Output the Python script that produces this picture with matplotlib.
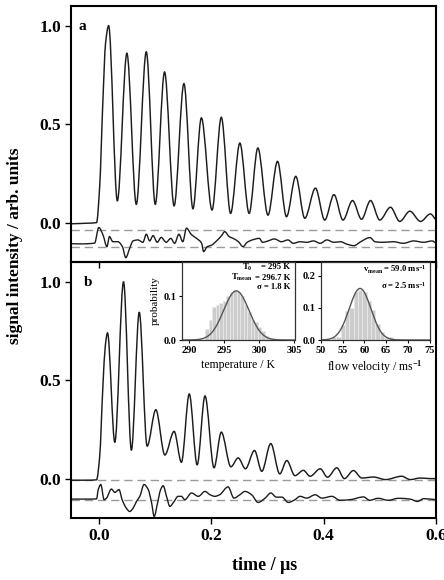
import numpy as np
import matplotlib
matplotlib.use("Agg")
import matplotlib.pyplot as plt
from matplotlib.path import Path
from matplotlib.patches import PathPatch

plt.rcParams["font.family"] = ["Liberation Serif", "DejaVu Serif"]
plt.rcParams["font.weight"] = "bold"
plt.rcParams["mathtext.fontset"] = "custom"
plt.rcParams["mathtext.rm"] = "Liberation Serif:bold"
plt.rcParams["mathtext.it"] = "Liberation Serif:bold"
plt.rcParams["mathtext.bf"] = "Liberation Serif:bold"

# ── Data ─────────────────────────────────────────────────────────────
# panel a: signal trace (time in µs, intensity)
ta = [-0.05, -0.02, -0.004, 0.0015, 0.0073, 0.012, 0.0175, 0.033, 0.050, 0.0667,
      0.0845, 0.1005, 0.117, 0.134, 0.1515, 0.1675, 0.1825, 0.2015, 0.218, 0.2345,
      0.251, 0.2675, 0.283, 0.301, 0.318, 0.334, 0.3505, 0.3665, 0.3855, 0.402,
      0.4185, 0.4345, 0.4515, 0.4675, 0.4835, 0.500, 0.519, 0.5355, 0.5535, 0.5725,
      0.590, 0.600]
va = [-0.006, -0.003, 0.0, 0.18, 0.62, 0.91, 1.0, 0.11, 0.86, 0.093,
      0.867, 0.093, 0.765, 0.085, 0.706, 0.07, 0.532, 0.064, 0.535, 0.047,
      0.404, 0.047, 0.379, 0.038, 0.311, 0.03, 0.235, 0.022, 0.175, 0.013,
      0.142, 0.013, 0.112, 0.017, 0.112, 0.013, 0.078, 0.006, 0.058, 0.006,
      0.044, 0.013]

# panel a: residual
ra_t = [-0.05, -0.03, -0.0075, 0.0, 0.0075, 0.0145, 0.019, 0.025, 0.034, 0.042,
        0.048, 0.055, 0.061, 0.0695, 0.0785, 0.0845, 0.0905, 0.0965, 0.104, 0.111,
        0.12, 0.128, 0.135, 0.1425, 0.1495, 0.156, 0.1645, 0.174, 0.183, 0.1865,
        0.193, 0.2005, 0.2095, 0.2185, 0.224, 0.232, 0.239, 0.2485, 0.2565, 0.264,
        0.273, 0.2855, 0.2915, 0.301, 0.3125, 0.325, 0.3365, 0.346, 0.358, 0.37,
        0.382, 0.394, 0.406, 0.418, 0.43, 0.442, 0.454, 0.466, 0.4825, 0.4915,
        0.506, 0.524, 0.542, 0.56, 0.578, 0.593, 0.6]
ra_v = [-0.107, -0.108, -0.104, -0.025, -0.063, -0.122, -0.071, -0.097, -0.097, -0.122,
        -0.178, -0.13, -0.093, -0.088, -0.1, -0.059, -0.093, -0.066, -0.1, -0.075,
        -0.1, -0.08, -0.105, -0.059, -0.097, -0.028, -0.06, -0.08, -0.105, -0.147,
        -0.122, -0.115, -0.093, -0.066, -0.046, -0.071, -0.08, -0.097, -0.122, -0.1,
        -0.088, -0.08, -0.1, -0.093, -0.083, -0.097, -0.088, -0.105, -0.097, -0.1,
        -0.093, -0.105, -0.088, -0.1, -0.097, -0.11, -0.117, -0.097, -0.076, -0.097,
        -0.1, -0.097, -0.105, -0.093, -0.1, -0.093, -0.105]

# panel b: signal trace
tb = [-0.05, -0.02, -0.004, 0.0015, 0.0073, 0.0116, 0.0155, 0.0285, 0.044, 0.058,
      0.072, 0.086, 0.1015, 0.1175, 0.134, 0.147, 0.161, 0.175, 0.189, 0.205,
      0.218, 0.235, 0.248, 0.261, 0.277, 0.29, 0.306, 0.322, 0.3345, 0.349,
      0.364, 0.376, 0.394, 0.407, 0.4235, 0.437, 0.453, 0.468, 0.489, 0.51,
      0.539, 0.554, 0.572, 0.59, 0.6]
vb = [-0.008, -0.008, -0.006, 0.11, 0.47, 0.675, 0.74, 0.185, 1.0, 0.144,
      0.845, 0.165, 0.35, 0.12, 0.24, 0.083, 0.43, 0.07, 0.42, 0.055,
      0.236, 0.06, 0.105, 0.05, 0.143, 0.037, 0.178, 0.024, 0.092, 0.015,
      0.042, 0.012, 0.05, 0.007, 0.055, 0.0, 0.041, 0.003, 0.008, -0.005,
      0.012, -0.005, 0.003, 0.0, 0.0]

# panel b: residual
rb_t = [-0.05, -0.02, -0.004, -0.001, 0.0035, 0.0095, 0.0135, 0.0225, 0.0285, 0.036,
        0.0415, 0.049, 0.055, 0.061, 0.067, 0.073, 0.0805, 0.088, 0.094, 0.0985,
        0.1045, 0.11, 0.1145, 0.1205, 0.1265, 0.134, 0.141, 0.147, 0.153, 0.165,
        0.177, 0.189, 0.198, 0.2065, 0.215, 0.23, 0.2405, 0.251, 0.26, 0.272,
        0.2835, 0.2955, 0.306, 0.316, 0.326, 0.337, 0.349, 0.358, 0.37, 0.385,
        0.397, 0.415, 0.429, 0.447, 0.471, 0.482, 0.497, 0.515, 0.533, 0.554,
        0.567, 0.578, 0.6]
rb_v = [-0.104, -0.104, -0.103, -0.056, -0.03, -0.107, -0.1, -0.053, -0.07, -0.056,
        -0.107, -0.15, -0.167, -0.15, -0.116, -0.09, -0.03, -0.056, -0.124, -0.192,
        -0.124, -0.056, -0.036, -0.09, -0.141, -0.116, -0.09, -0.09, -0.107, -0.073,
        -0.09, -0.065, -0.082, -0.09, -0.082, -0.042, -0.099, -0.082, -0.065, -0.082,
        -0.121, -0.1, -0.073, -0.094, -0.094, -0.121, -0.107, -0.09, -0.099, -0.082,
        -0.099, -0.09, -0.11, -0.107, -0.093, -0.11, -0.1, -0.11, -0.1, -0.104,
        -0.116, -0.102, -0.107]

# dashed reference levels
dash_a = [-0.04, -0.122]
dash_b = [-0.008, -0.107]

# inset: temperature histogram (K, probability) + gaussian fit
temp_bins = [290.5, 292.5, 293.0, 293.5, 294.0, 294.5, 295.0, 295.5, 296.0, 296.5,
             297.0, 297.5, 298.0, 298.5, 299.0, 299.5, 300.0, 300.5, 301.0, 301.5]
temp_prob = [0.003, 0.025, 0.045, 0.075, 0.08, 0.085, 0.09, 0.10, 0.11, 0.115,
             0.11, 0.10, 0.08, 0.065, 0.045, 0.04, 0.03, 0.02, 0.01, 0.005]
temp_fit = {"mean": 296.7, "sigma": 1.8, "peak": 0.112}

# inset: flow velocity histogram (m/s, probability) + gaussian fit
vel_bins = [53, 54, 55, 56, 57, 58, 59, 60, 61, 62, 63, 64, 65, 66, 68]
vel_prob = [0.008, 0.01, 0.045, 0.09, 0.1, 0.15, 0.155, 0.148, 0.12, 0.093,
            0.05, 0.025, 0.005, 0.009, 0.003]
vel_fit = {"mean": 59.0, "sigma": 2.5, "peak": 0.16}

TRACE = "#1c1c1c"
DASH = "#9a9a9a"


def trace_path(t, v):
    """Smooth bezier path through the read points (monotone tangents,
    flat at local extrema) so the curve is drawn by matplotlib itself."""
    t = np.asarray(t, float)
    v = np.asarray(v, float)
    h = np.diff(t)
    d = np.diff(v) / h
    m = np.zeros_like(v)
    m[0], m[-1] = d[0], d[-1]
    for i in range(1, len(v) - 1):
        if d[i - 1] * d[i] > 0:
            w1 = 2 * h[i] + h[i - 1]
            w2 = h[i] + 2 * h[i - 1]
            m[i] = (w1 + w2) / (w1 / d[i - 1] + w2 / d[i])
    verts = [(t[0], v[0])]
    codes = [Path.MOVETO]
    for i in range(len(t) - 1):
        verts += [(t[i] + h[i] / 3, v[i] + m[i] * h[i] / 3),
                  (t[i + 1] - h[i] / 3, v[i + 1] - m[i + 1] * h[i] / 3),
                  (t[i + 1], v[i + 1])]
        codes += [Path.CURVE4] * 3
    return Path(verts, codes)


fig = plt.figure(figsize=(4.44, 5.80), dpi=100)

W, H = 444.0, 580.0
def box(x0, y0, x1, y1):
    return [x0 / W, 1 - y1 / H, (x1 - x0) / W, (y1 - y0) / H]

ax_b = fig.add_axes(box(70.7, 262, 436, 518))
ax_a = fig.add_axes(box(70.7, 6, 436, 262))
ax_b.patch.set_visible(False)
ax_a.patch.set_visible(False)

for ax, t, v, rt, rv, dl in [(ax_a, ta, va, ra_t, ra_v, dash_a),
                             (ax_b, tb, vb, rb_t, rb_v, dash_b)]:
    for lvl in dl:
        ax.axhline(lvl, color=DASH, lw=1.0, dashes=(6, 3.5), zorder=1)
    ax.add_patch(PathPatch(trace_path(t, v), facecolor="none", edgecolor=TRACE,
                           lw=1.05, zorder=2))
    ax.add_patch(PathPatch(trace_path(rt, rv), facecolor="none", edgecolor=TRACE,
                           lw=1.0, zorder=2))
    ax.set_xlim(-0.05, 0.6)
    ax.set_ylim(-0.2, 1.1)
    ax.set_yticks([0.0, 0.5, 1.0])
    ax.set_yticklabels(["0.0", "0.5", "1.0"])
    ax.tick_params(axis="both", direction="out", length=4, width=1.0,
                   labelsize=12.5, pad=3)
    for s in ax.spines.values():
        s.set_linewidth(1.5)

ax_a.set_xticks([0.0, 0.2, 0.4, 0.6])
ax_a.tick_params(axis="x", labelbottom=False)
ax_b.set_xticks([0.0, 0.2, 0.4, 0.6])
ax_b.set_xticklabels(["0.0", "0.2", "0.4", "0.6"])

ax_a.text(0.033, 0.919, "a", transform=ax_a.transAxes, fontsize=11,
          ha="center", va="center")
ax_b.text(0.047, 0.918, "b", transform=ax_b.transAxes, fontsize=11,
          ha="center", va="center")

fig.text(15 / W, 1 - 246 / H, "signal intensity / arb. units", rotation=90,
         ha="center", va="center", fontsize=12.5)
fig.text(265 / W, 1 - 566 / H, "time / \u03bcs", ha="center", va="center",
         fontsize=13)

# ── Insets ───────────────────────────────────────────────────────────
def draw_inset(rect, bins, prob, width, fit, xlim, ylim, xticks, yticks, xlabel):
    ax = fig.add_axes(rect)
    ax.set_facecolor("white")
    ax.bar(bins, prob, width=width, color="#cdcdcd", edgecolor="#e8e8e8",
           linewidth=0.6, zorder=1)
    x = np.linspace(xlim[0], xlim[1], 300)
    ax.plot(x, fit["peak"] * np.exp(-0.5 * ((x - fit["mean"]) / fit["sigma"]) ** 2),
            color="#555555", lw=1.0, zorder=2)
    ax.set_xlim(*xlim)
    ax.set_ylim(*ylim)
    ax.set_xticks(xticks)
    ax.set_xticklabels([str(v) for v in xticks])
    ax.set_yticks(yticks)
    ax.set_yticklabels(["%.1f" % v for v in yticks])
    ax.tick_params(direction="out", length=2, width=0.8, labelsize=7.5, pad=2)
    ax.set_xlabel(xlabel, fontsize=8.5, labelpad=3)
    for s in ax.spines.values():
        s.set_linewidth(0.9)
        s.set_color("#333333")
    return ax

ax_t = draw_inset(box(182.3, 262, 294.5, 340), temp_bins, temp_prob, 0.5, temp_fit,
                  (289, 305), (0, 0.178), [290, 295, 300, 305], [0.0, 0.1],
                  "temperature / K")
ax_t.set_ylabel("probability", fontsize=8, labelpad=3)
ANN = 6.2
rows_y = [0.93, 0.80, 0.675]
ax_t.text(0.96, rows_y[0], "= 295 K", transform=ax_t.transAxes, fontsize=ANN,
          ha="right", va="center")
wide = ax_t.text(0.96, rows_y[1], "= 296.7 K", transform=ax_t.transAxes,
                 fontsize=ANN, ha="right", va="center")
ax_t.text(0.96, rows_y[2], "\u03c3 = 1.8 K", transform=ax_t.transAxes, fontsize=ANN,
          ha="right", va="center")

# put T0 / Tmean just left of the widest "=" column
fig.canvas.draw()
bb = wide.get_window_extent(fig.canvas.get_renderer())
x_eq = ax_t.transAxes.inverted().transform((bb.x0 - 2, 0))[0]
ax_t.text(x_eq, rows_y[0], "T$_0$", transform=ax_t.transAxes, fontsize=ANN,
          ha="right", va="center")
ax_t.text(x_eq, rows_y[1], "T$_{mean}$", transform=ax_t.transAxes, fontsize=ANN,
          ha="right", va="center")

ax_v = draw_inset(box(321, 262, 429.5, 340), vel_bins, vel_prob, 1.0, vel_fit,
                  (50, 75), (0, 0.242), [50, 55, 60, 65, 70, 75], [0.0, 0.1, 0.2],
                  "flow velocity / ms$^{-1}$")
ax_v.text(0.97, 0.905, "v$_{mean}$ = 59.0 ms$^{-1}$", transform=ax_v.transAxes,
          fontsize=ANN, ha="right", va="center")
ax_v.text(0.97, 0.70, "\u03c3 = 2.5 ms$^{-1}$", transform=ax_v.transAxes,
          fontsize=ANN, ha="right", va="center")

fig.savefig("out.png", dpi=100)
